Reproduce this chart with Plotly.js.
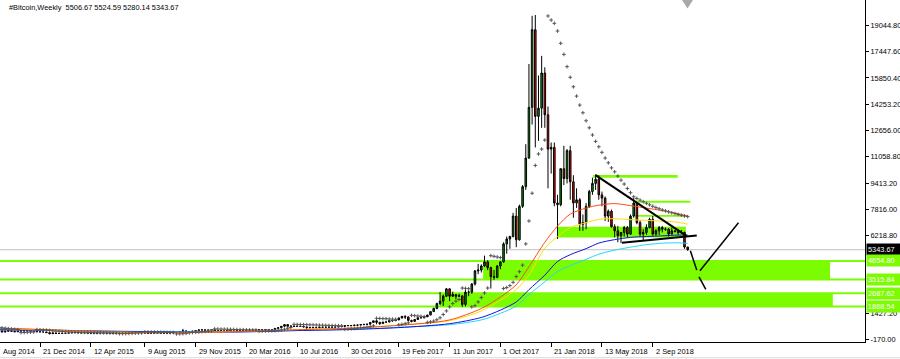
<!DOCTYPE html>
<html>
<head>
<meta charset="utf-8">
<script src="https://cdn.plot.ly/plotly-3.0.1.min.js"></script>
<style>html,body{margin:0;padding:0;background:#fff;}#chart{width:900px;height:359px;}</style>
</head>
<body>
<div id="chart"></div>
<script>
// ---- weekly bars (Sunday opens), first bar 2014-09-14 ----
const firstWeek = '2014-09-14';
const open = [
 477,402,378,320,362,390,358,325,367,385,375,378,352,350,328,318,
 315,275,210,253,226,222,235,238,255,280,285,262,252,255,237,222,226,239,241,236,240,230,224,233,245,249,270,292,275,290,282,262,258,228,228,240,238,230,233,238,245,265,285,325,380,330,322,360,395,435,440,422,
 430,450,385,400,375,375,405,440,435,415,412,410,415,420,420,430,450,455,460,455,445,530,575,660,765,660,675,650,665,655,625,590,570,580,575,610,605,605,600,610,615,640,655,700,705,700,730,735,765,775,790,895,
 995,905,825,920,920,1020,1000,1050,1170,1270,1230,1020,960,1080,1190,1180,1240,1350,1560,1750,2050,2200,2500,2950,2500,2600,2500,2520,2000,2750,2750,3250,4050,4100,4350,4600,4250,3700,3650,4350,4600,5700,6000,6150,7400,5950,8000,9200,10950,14050,18800,13500,14000,
 16150,13600,11500,11600,8200,8100,10300,9700,11400,9500,8200,8400,6900,7000,8000,8900,9400,9650,8700,8500,7400,7700,6750,6500,6200,6400,6700,6300,7400,8200,7000,6300,6400,6700,7200,6300,6500,6700,6600,6600,6300,6500,6450,6400,6400,5506.67
];
const high = [
 482,437,392,365,412,392,360,370,460,400,385,382,360,355,335,325,
 315,280,310,258,245,245,245,260,296,296,290,275,260,260,238,236,240,246,244,244,242,232,234,252,250,272,310,318,297,297,284,272,268,234,242,245,240,238,240,248,272,290,335,500,400,335,375,400,465,465,460,435,
 460,455,420,410,385,410,445,445,440,420,420,420,425,425,430,455,465,465,462,460,535,575,665,780,770,690,700,680,675,660,630,600,590,585,615,625,612,610,612,620,645,660,715,740,720,750,745,770,780,795,900,1000,
 1150,910,930,930,1030,1065,1060,1200,1290,1330,1260,1060,1100,1200,1215,1250,1360,1570,1800,2100,2760,2600,3000,2980,2780,2620,2660,2560,2900,2850,3300,4100,4480,4450,4980,4700,4300,4100,4400,4650,5800,6150,6200,7600,7900,8100,9300,11800,16700,19650,19700,16000,17200,
 16500,14100,11900,11900,8700,10300,11700,11500,11700,9900,9100,8500,7500,8200,9000,9750,9950,9900,8900,8600,7800,7800,6900,6800,6400,6800,6800,7500,8500,8250,7150,6600,6900,7300,7400,6600,6800,6800,6700,6650,6700,6530,6500,6550,6450,5524.59
];
const low = [
 390,370,300,275,360,345,320,320,360,345,365,350,345,305,310,310,
 265,170,205,210,215,215,230,235,255,270,255,240,240,235,218,218,210,230,232,231,225,220,222,231,238,246,265,270,272,278,258,255,195,199,226,228,220,227,230,235,244,263,280,320,305,315,315,355,385,430,415,410,
 425,365,375,360,365,370,400,405,400,395,410,408,412,415,418,428,440,440,445,435,440,525,570,655,590,615,615,645,645,600,480,565,565,565,570,600,600,590,595,605,612,630,650,690,690,695,725,730,755,770,785,890,
 780,750,820,880,915,940,990,1045,1140,1100,950,900,950,1070,1160,1170,1230,1340,1550,1700,1950,1900,2450,2200,2450,2330,2480,1850,1880,2500,2650,3150,3850,3950,4300,4100,2970,3500,3600,4150,4550,5100,5400,6100,5500,5900,7900,9000,10900,13000,11600,12000,12800,
 12800,9100,10000,8000,6000,8000,9300,9400,8400,7300,7900,6500,6500,6600,7900,8700,9000,8400,8000,7100,7050,6700,6100,5800,5750,6150,6100,6250,7300,6900,6150,5900,6250,6650,6200,6200,6250,6400,6500,6150,6300,6420,6250,6350,5400,5280.14
];
const close = [
 402,378,320,362,390,358,325,367,385,375,378,352,350,328,318,315,
 275,210,253,226,222,235,238,255,280,285,262,252,255,237,222,226,239,241,236,240,230,224,233,245,249,270,292,275,290,282,262,258,228,228,240,238,230,233,238,245,265,285,325,380,330,322,360,395,435,440,422,430,
 450,385,400,375,375,405,440,435,415,412,410,415,420,420,430,450,455,460,455,445,530,575,660,765,660,675,650,665,655,625,590,570,580,575,610,605,605,600,610,615,640,655,700,705,700,730,735,765,775,790,895,995,
 905,825,920,920,1020,1000,1050,1170,1270,1230,1020,960,1080,1190,1180,1240,1350,1560,1750,2050,2200,2500,2950,2500,2600,2500,2520,2000,2750,2750,3250,4050,4100,4350,4600,4250,3700,3650,4350,4600,5700,6000,6150,7400,5950,8000,9200,10950,14050,18800,13500,14000,16150,
 13600,11500,11600,8200,8100,10300,9700,11400,9500,8200,8400,6900,7000,8000,8900,9400,9650,8700,8500,7400,7700,6750,6500,6200,6400,6700,6300,7400,8200,7000,6300,6400,6700,7200,6300,6500,6700,6600,6600,6300,6500,6450,6400,6400,5507,5343.67
];
// Parabolic SAR dots, one per bar
const sar = [
 600,585,565,540,515,495,478,462,275,285,295,305,314,460,450,440,
 428,410,380,365,352,340,330,320,310,305,300,296,292,288,284,278,272,268,264,260,257,254,251,210,212,215,220,230,240,248,255,318,315,310,305,300,296,292,288,284,280,195,200,210,230,260,280,295,310,330,350,365,
 378,500,495,490,485,480,474,468,462,456,450,445,440,436,432,360,365,370,378,385,392,410,440,480,540,585,780,775,770,765,760,752,745,738,731,725,719,713,707,701,696,690,480,490,505,520,540,560,585,610,640,690,
 1150,1140,1130,1120,1110,1100,1090,750,780,820,870,1330,1310,1290,1270,1250,900,930,980,1060,1180,1380,1600,1850,2050,2200,2300,3000,2980,2960,1850,1920,2150,2420,2700,3000,4980,4940,4900,4860,2970,3030,3150,3350,3700,4000,4400,5700,7100,8800,10500,11200,11500,
 12050,19640,19390,19190,18720,17970,17290,16540,15890,15310,14740,14190,13720,13230,12800,12360,11970,11640,11300,10950,10660,10350,10110,9850,9600,9360,9090,8830,8580,8480,8380,8280,8180,8090,8000,7920,7850,7780,7720,7660,7600,7550,7500,7450,7410,7370
];

// ---- moving averages read at sample dates ----
const maDates = ['2014-09-14','2014-12-21','2015-04-12','2015-08-09','2015-11-29','2016-03-20','2016-07-10','2016-10-30','2017-02-19','2017-06-11','2017-08-20','2017-10-01','2017-11-05','2017-12-03','2018-01-07','2018-02-04','2018-03-04','2018-04-08','2018-05-06','2018-06-10','2018-07-15','2018-08-19','2018-09-23','2018-10-28','2018-11-18'];
const maRed    = [560,470,360,285,290,350,450,540,720,1050,1750,2450,3200,4300,5800,6790,7520,7890,8070,8165,8040,7890,7735,7550,7400];
const maYellow = [540,455,350,280,290,355,460,545,730,1000,1600,2250,2900,3800,5440,6150,6700,7000,7200,7240,7180,7140,7090,7020,6910];
const maBlue   = [440,420,370,330,300,320,400,460,580,820,1200,1650,2150,2900,3790,4625,5040,5410,5750,5960,6100,6150,6190,6240,6240];
const maCyan   = [470,440,390,345,320,335,400,470,600,760,1050,1450,1900,2600,3380,4015,4370,4750,5070,5320,5500,5655,5745,5765,5730];

// ---- axes ----
const xTickDates  = ['2014-12-21','2015-04-12','2015-08-09','2015-11-29','2016-03-20','2016-07-10','2016-10-30','2017-02-19','2017-06-11','2017-10-01','2018-01-21','2018-05-13','2018-09-02'];
const xTickLabels = ['21 Dec 2014','12 Apr 2015','9 Aug 2015','29 Nov 2015','20 Mar 2016','10 Jul 2016','30 Oct 2016','19 Feb 2017','11 Jun 2017','1 Oct 2017','21 Jan 2018','13 May 2018','2 Sep 2018'];
const yTickVals   = [-170,1427.2,6218.8,7816,9413.2,11058.8,12656,14253.2,15850.4,17447.6,19044.8];
const yTickLabels = ['-170.00','1427.20','6218.80','7816.00','9413.20','11058.80','12656.00','14253.20','15850.40','17447.60','19044.80'];

// ---- drawn objects (dates / prices) ----
const levelPrices = [4654.80, 3515.84, 2687.62, 1868.54];
const levelLabels = ['4654.80','3515.84','2687.62','1868.54'];
const lastPrice = 5343.67;
const boxFrom = ['2017-08-24','2017-05-21'];
const boxTo   = ['2019-09-28','2019-10-04'];
const boxTop  = [4654.80, 2687.62];
const boxBot  = [3515.84, 1868.54];
const zoneFrom = ['2018-04-23','2018-07-25','2018-07-25','2018-02-05'];
const zoneTo   = ['2018-10-27','2018-11-24','2018-11-16','2018-11-14'];
const zoneTop  = [9910, 8335, 7460, 6745];
const zoneBot  = [9750, 8210, 7360, 6095];
const lineX0 = ['2018-04-29','2018-06-26','2018-11-24','2018-12-15','2018-12-13'];
const lineY0 = [9908, 5765, 5276, 4052, 3685];
const lineX1 = ['2018-11-16','2018-12-08','2018-12-08','2019-03-10','2018-12-28'];
const lineY1 = [6175, 6206, 4095, 6990, 2914];
const lineW  = [2, 2, 1.5, 1.5, 1.5];

const dates = [];
{
  const t0 = Date.parse(firstWeek + 'T00:00:00Z');
  for (let i = 0; i < close.length; i++) dates.push(new Date(t0 + i * 7 * 864e5).toISOString().slice(0, 10));
}

const FONT = 'Liberation Sans, Arial, sans-serif';
const FS = 7.4;
const LIME = '#7CFC00';

const traces = [
  {type:'candlestick', x:dates, open:open, high:high, low:low, close:close,
   increasing:{line:{color:'#000', width:1}, fillcolor:'#00A000'},
   decreasing:{line:{color:'#000', width:1}, fillcolor:'#FF0000'},
   whiskerwidth:0, hoverinfo:'skip', showlegend:false},
  {type:'scatter', mode:'lines', x:maDates, y:maCyan, line:{color:'#1ED6FF', width:1, shape:'spline', smoothing:0.8}, hoverinfo:'skip', showlegend:false},
  {type:'scatter', mode:'lines', x:maDates, y:maBlue, line:{color:'#1010E0', width:1, shape:'spline', smoothing:0.8}, hoverinfo:'skip', showlegend:false},
  {type:'scatter', mode:'lines', x:maDates, y:maYellow, line:{color:'#FFE000', width:1, shape:'spline', smoothing:0.8}, hoverinfo:'skip', showlegend:false},
  {type:'scatter', mode:'lines', x:maDates, y:maRed, line:{color:'#FF4A1A', width:1, shape:'spline', smoothing:0.8}, hoverinfo:'skip', showlegend:false},
  {type:'scatter', mode:'markers', x:dates, y:sar, marker:{symbol:'cross-thin', size:2.6, line:{color:'#555', width:1}}, hoverinfo:'skip', showlegend:false}
];

const shapes = [];
shapes.push({type:'line', xref:'paper', x0:0, x1:1, yref:'y', y0:lastPrice, y1:lastPrice, line:{color:'#C0C0C0', width:1}, layer:'below'});
for (let i = 0; i < boxTop.length; i++) {
  shapes.push({type:'rect', xref:'x', x0:boxFrom[i], x1:boxTo[i], yref:'y', y0:boxBot[i], y1:boxTop[i], fillcolor:LIME, line:{width:0}, layer:'below'});
}
levelPrices.forEach(p => shapes.push({type:'line', xref:'paper', x0:0, x1:1, yref:'y', y0:p, y1:p, line:{color:LIME, width:2}, layer:'below'}));
for (let i = 0; i < zoneTop.length; i++) {
  shapes.push({type:'rect', xref:'x', x0:zoneFrom[i], x1:zoneTo[i], yref:'y', y0:zoneBot[i], y1:zoneTop[i], fillcolor:LIME, line:{width:0}, layer:'below'});
}
for (let i = 0; i < lineX0.length; i++) {
  shapes.push({type:'line', xref:'x', yref:'y', x0:lineX0[i], y0:lineY0[i], x1:lineX1[i], y1:lineY1[i], line:{color:'#000', width:lineW[i]}, layer:'above'});
}
shapes.push({type:'path', xref:'paper', yref:'paper', path:'M0.7884,1 L0.8011,1 L0.7948,0.975 Z', fillcolor:'#A8A8A8', line:{width:0}});
shapes.push({type:'line', xref:'paper', yref:'paper', x0:0, x1:1.05, y0:-0.046, y1:-0.046, line:{color:'#D8D8D8', width:1}});

const annotations = [
  {xref:'paper', yref:'paper', x:0.008, y:1, xanchor:'left', yanchor:'top', yshift:-1, showarrow:false,
   text:'#Bitcoin,Weekly\u00a0\u00a05506.67 5524.59 5280.14 5343.67', font:{family:FONT, size:FS, color:'#000'}},
  {xref:'paper', yref:'paper', x:0.001, y:0, xanchor:'left', yanchor:'top', yshift:-3, showarrow:false,
   text:'Aug 2014', font:{family:FONT, size:FS, color:'#000'}},
  {xref:'paper', yref:'y', x:1, y:lastPrice, xanchor:'left', yanchor:'middle', xshift:1, showarrow:false,
   text:'5343.67', font:{family:FONT, size:FS, color:'#fff'}, bgcolor:'#000', borderpad:1, width:31, align:'left'}
];
levelPrices.forEach((p, i) => annotations.push({xref:'paper', yref:'y', x:1, y:p, xanchor:'left', yanchor:'middle', xshift:1, showarrow:false,
  text:levelLabels[i], font:{family:FONT, size:FS, color:'#fff'}, bgcolor:LIME, borderpad:1, width:31, align:'left'}));
// x tick labels, written to the right of their tick as in the terminal
xTickDates.forEach((d, i) => annotations.push({xref:'x', yref:'paper', x:d, y:0, xanchor:'left', yanchor:'top', xshift:1, yshift:-3, showarrow:false,
  text:xTickLabels[i], font:{family:FONT, size:FS, color:'#000'}}));

const layout = {
  width:900, height:359,
  margin:{l:0, r:35, t:0, b:17, pad:0},
  paper_bgcolor:'#fff', plot_bgcolor:'#fff',
  showlegend:false,
  font:{family:FONT, size:FS, color:'#000'},
  xaxis:{type:'date', range:['2014-09-23 16:00','2019-12-14'], showgrid:false, zeroline:false,
    showline:true, linecolor:'#000', linewidth:1,
    ticks:'outside', ticklen:4, tickcolor:'#000', tickwidth:1,
    tickmode:'array', tickvals:xTickDates, ticktext:xTickLabels, showticklabels:false,
    rangeslider:{visible:false}, fixedrange:true},
  yaxis:{side:'right', range:[-300, 20617], showgrid:false, zeroline:false,
    showline:true, linecolor:'#000', linewidth:1,
    ticks:'outside', ticklen:3, tickcolor:'#000', tickwidth:1,
    tickmode:'array', tickvals:yTickVals, ticktext:yTickLabels,
    tickfont:{family:FONT, size:FS, color:'#000'}, fixedrange:true},
  shapes:shapes,
  annotations:annotations
};

Plotly.newPlot('chart', traces, layout, {displayModeBar:false, staticPlot:true});
</script>
</body>
</html>
